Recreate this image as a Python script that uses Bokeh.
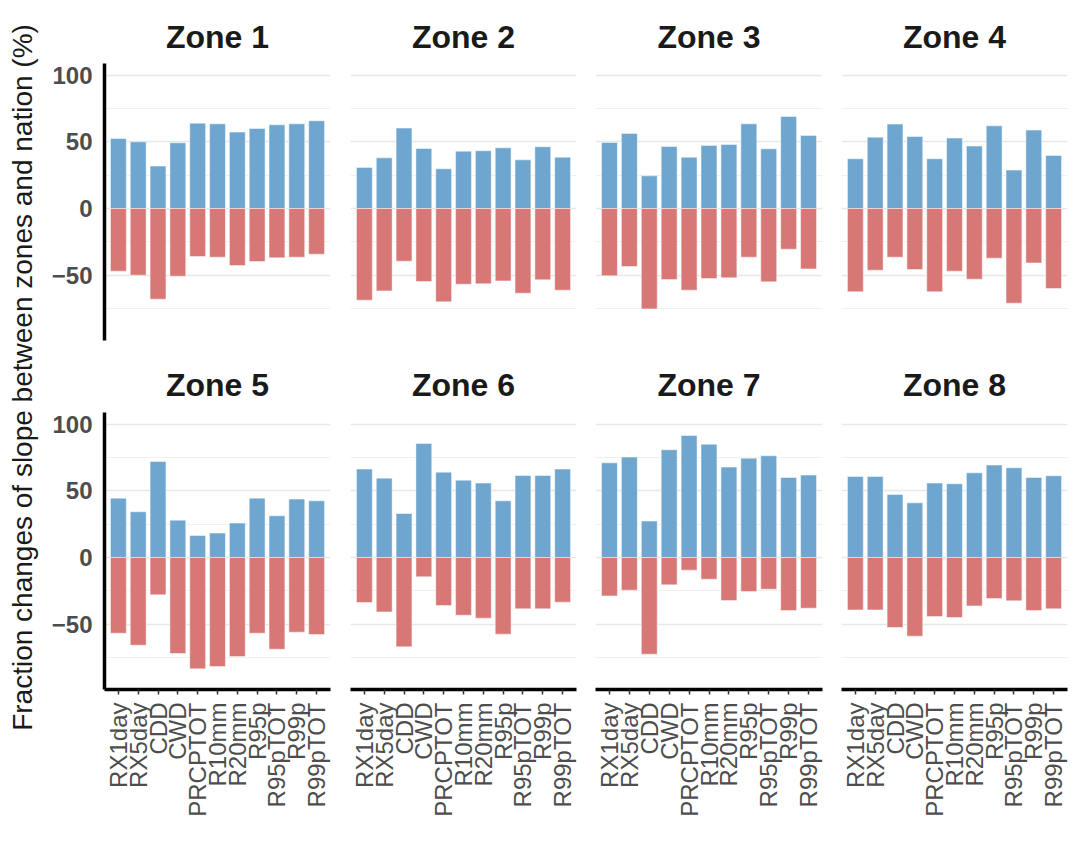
import math
from bokeh.plotting import figure
from bokeh.layouts import row, column
from bokeh.models import FactorRange, Range1d, FixedTicker, ColumnDataSource
from bokeh.core.properties import value
from bokeh.embed import file_html
from bokeh.resources import INLINE

# ---------------- data ----------------
indices = ["RX1day", "RX5day", "CDD", "CWD", "PRCPTOT", "R10mm",
           "R20mm", "R95p", "R95pTOT", "R99p", "R99pTOT"]

zone_names = ["Zone 1", "Zone 2", "Zone 3", "Zone 4",
              "Zone 5", "Zone 6", "Zone 7", "Zone 8"]

zone1_pos = [52.5, 50.0, 31.8, 49.3, 64.0, 63.5, 57.3, 60.0, 62.8, 63.5, 65.8]
zone1_neg = [-47.0, -50.0, -68.0, -50.8, -36.0, -36.5, -42.8, -39.8, -37.0, -36.5, -34.3]
zone2_pos = [30.8, 38.0, 60.3, 45.0, 29.8, 43.0, 43.3, 45.5, 36.5, 46.3, 38.5]
zone2_neg = [-68.8, -61.8, -39.5, -54.8, -70.0, -56.8, -56.5, -54.3, -63.5, -53.5, -61.3]
zone3_pos = [49.5, 56.3, 24.5, 46.5, 38.5, 47.3, 48.0, 63.5, 44.8, 69.0, 54.8]
zone3_neg = [-50.5, -43.5, -75.3, -53.3, -61.3, -52.5, -52.0, -36.5, -55.0, -30.5, -45.3]
zone4_pos = [37.3, 53.5, 63.3, 54.0, 37.3, 52.8, 46.8, 62.0, 28.8, 58.8, 39.8]
zone4_neg = [-62.5, -46.3, -36.5, -45.8, -62.5, -47.0, -53.0, -37.3, -71.0, -40.8, -60.0]
zone5_pos = [44.5, 34.3, 72.0, 28.0, 16.5, 18.3, 25.8, 44.5, 31.3, 43.8, 42.5]
zone5_neg = [-56.8, -65.8, -28.0, -72.0, -83.5, -81.8, -74.3, -56.8, -68.8, -56.0, -57.8]
zone6_pos = [66.3, 59.5, 33.0, 85.5, 64.0, 58.0, 55.8, 42.5, 61.5, 61.5, 66.3]
zone6_neg = [-33.8, -40.8, -67.0, -14.5, -36.0, -43.3, -45.5, -57.5, -38.5, -38.5, -33.5]
zone7_pos = [71.0, 75.3, 27.3, 80.8, 91.5, 85.0, 67.8, 74.5, 76.3, 60.0, 61.8]
zone7_neg = [-28.8, -24.5, -72.5, -20.5, -9.5, -16.3, -32.3, -25.5, -23.8, -39.8, -38.0]
zone8_pos = [60.8, 60.8, 47.3, 41.0, 55.8, 55.3, 63.5, 69.3, 67.3, 60.0, 61.3]
zone8_neg = [-39.3, -39.3, -52.5, -59.0, -44.3, -45.0, -36.3, -30.8, -32.5, -39.8, -38.5]

pos_values = [zone1_pos, zone2_pos, zone3_pos, zone4_pos,
              zone5_pos, zone6_pos, zone7_pos, zone8_pos]
neg_values = [zone1_neg, zone2_neg, zone3_neg, zone4_neg,
              zone5_neg, zone6_neg, zone7_neg, zone8_neg]

y_major = [-50, 0, 50, 100]
y_minor = [-75, -25, 25, 75]
y_label = "Fraction changes of slope between zones and nation (%)"

# ---------------- style ----------------
FONT = "Liberation Sans"
BLUE = "#6fa6cf"
RED = "#d87876"

col_widths = [292, 246, 246, 240]
col_left = [56, 10, 9, 9]
col_right = [10, 10, 10, 5]
row_heights = [350, 506]
row_top = [63, 62]
row_bottom = [10, 167]
title_standoff = [18, 19]


def make_panel(i):
    r, c = divmod(i, 4)
    p = figure(
        width=col_widths[c], height=row_heights[r],
        x_range=FactorRange(factors=indices, range_padding=0.2,
                            range_padding_units="absolute"),
        y_range=Range1d(-99, 108.75),
        min_border_left=col_left[c], min_border_right=col_right[c],
        min_border_top=row_top[r], min_border_bottom=row_bottom[r],
        toolbar_location=None, output_backend="svg",
        x_axis_location=("below" if r == 1 else None),
        y_axis_location=("left" if c == 0 else None),
        title=zone_names[i],
    )
    p.outline_line_color = None
    p.background_fill_color = "white"
    p.border_fill_color = "white"

    p.title.align = "center"
    p.title.text_font = FONT
    p.title.text_font_size = "32px"
    p.title.text_font_style = "bold"
    p.title.text_color = "#1a1a1a"
    p.title.standoff = title_standoff[r]

    p.xgrid.visible = False
    p.ygrid.ticker = FixedTicker(ticks=y_major, minor_ticks=y_minor)
    p.ygrid.grid_line_color = "#e8e8e8"
    p.ygrid.grid_line_width = 1.6
    p.ygrid.minor_grid_line_color = "#f0f0f0"
    p.ygrid.minor_grid_line_width = 1.2

    src = ColumnDataSource(dict(cat=indices, pos=pos_values[i], neg=neg_values[i]))
    p.vbar(x="cat", top="pos", bottom=0, width=0.8, source=src,
           fill_color=BLUE, line_color="white", line_width=0.8, line_alpha=0.6)
    p.vbar(x="cat", top=0, bottom="neg", width=0.8, source=src,
           fill_color=RED, line_color="white", line_width=0.8, line_alpha=0.6)

    if c == 0:
        ax = p.yaxis[0]
        ax.ticker = FixedTicker(ticks=y_major, minor_ticks=[])
        ax.axis_line_width = 3.5
        ax.axis_line_color = "black"
        ax.major_tick_line_color = None
        ax.minor_tick_line_color = None
        ax.major_tick_in = 0
        ax.major_tick_out = 0
        ax.minor_tick_in = 0
        ax.minor_tick_out = 0
        ax.major_label_standoff = 12
        ax.major_label_text_font = FONT
        ax.major_label_text_font_size = "24px"
        ax.major_label_text_font_style = "bold"
        ax.major_label_text_color = "#4d4d4d"
    if r == 1:
        ax = p.xaxis[0]
        ax.axis_line_width = 3.5
        ax.axis_line_color = "black"
        ax.major_tick_in = 0
        ax.major_tick_out = 5
        ax.major_tick_line_width = 1.5
        ax.major_tick_line_color = "#333333"
        ax.minor_tick_line_color = None
        ax.major_label_standoff = 8
        ax.major_label_orientation = math.pi / 2
        ax.major_label_text_font = FONT
        ax.major_label_text_font_size = "24px"
        ax.major_label_text_color = "#4d4d4d"
    return p


panels = [make_panel(i) for i in range(8)]

lab = figure(width=48, height=856, x_range=Range1d(0, 1), y_range=Range1d(0, 1),
             min_border=0, toolbar_location=None, output_backend="svg",
             x_axis_location=None, y_axis_location=None)
lab.outline_line_color = None
lab.grid.visible = False
lab.text(x=[0.458], y=[0.5596], text=[y_label], angle=math.pi / 2,
         text_align="center", text_baseline="middle",
         text_font=value(FONT), text_font_size="28px", text_color="#1a1a1a")

layout = row(lab, column(row(*panels[:4]), row(*panels[4:])))

open("out.html", "w").write(file_html(layout, INLINE))
